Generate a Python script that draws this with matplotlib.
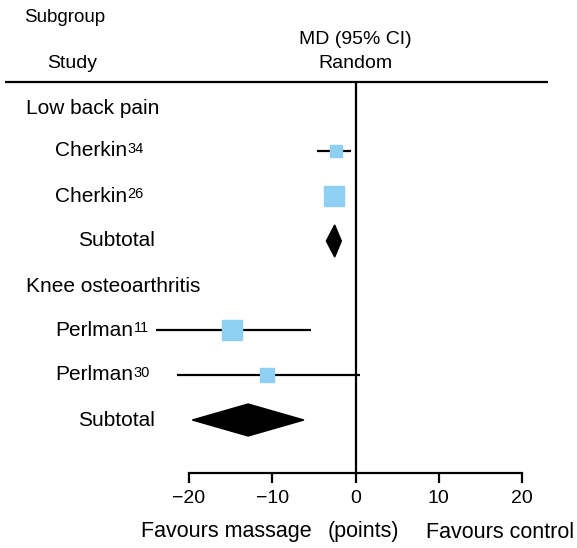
import matplotlib.pyplot as plt
from matplotlib.patches import Polygon

plt.rcParams['font.family'] = ['Liberation Sans', 'DejaVu Sans']

# study-level mean differences with 95% CI
studies = ['Cherkin', 'Cherkin', 'Perlman', 'Perlman']
refs = ['34', '26', '11', '30']
md = [-2.4, -2.6, -14.8, -10.6]
ci_low = [-4.6, -3.6, -24.0, -21.5]
ci_high = [-0.5, -1.6, -5.3, 0.5]

# pooled random-effects estimates per subgroup
subgroups = ['Low back pain', 'Knee osteoarthritis']
pooled_md = [-2.5, -12.9]
pooled_low = [-3.5, -19.6]
pooled_high = [-1.7, -6.2]

ticks = [-20, -10, 0, 10, 20]

W, H = 577, 548
fig = plt.figure(figsize=(W / 100, H / 100), dpi=100)
ax = fig.add_axes([0, 0, 1, 1])

# pixel-like vertical units, MD units horizontally
px_per_unit = 333 / 40
x0 = 355.5
ax.set_xlim(-x0 / px_per_unit, (W - x0) / px_per_unit)
ax.set_ylim(H, 0)

blue = '#8fcff2'
fs_head = 14
fs = 15

study_rows = [151, 196, 330, 375]
sub_rows = [108, 286]
total_rows = [241, 420]
sizes = [8, 15, 14.5, 10]

def px(x):
    return (x - x0) / px_per_unit

renderer = fig.canvas.get_renderer()

# header
ax.text(px(24), 18, 'Subgroup', fontsize=13.5, ha='left', va='center')
ax.text(px(72), 63, 'Study', fontsize=fs_head, ha='center', va='center')
ax.text(0, 40, 'MD (95% CI)', fontsize=fs_head, ha='center', va='center')
ax.text(0, 63, 'Random', fontsize=fs_head, ha='center', va='center')
ax.plot([px(5), px(548)], [82, 82], color='black', lw=1.6, solid_capstyle='butt')

# line of no effect
ax.plot([0, 0], [82, 473], color='black', lw=1.6, solid_capstyle='butt')

for name, y in zip(subgroups, sub_rows):
    ax.text(px(26), y, name, fontsize=fs, ha='left', va='center')

for name, ref, y, m, lo, hi, s in zip(studies, refs, study_rows, md, ci_low, ci_high, sizes):
    t = ax.text(px(55), y, name, fontsize=fs, ha='left', va='center')
    # reference number as a superscript right after the name
    right = t.get_window_extent(renderer).x1
    xs = ax.transData.inverted().transform((right + 0.5, 0))[0]
    ax.text(xs, y - 9, ref, fontsize=10.5, ha='left', va='top')
    ax.plot([lo, hi], [y, y], color='black', lw=1.6, solid_capstyle='butt')
    ax.plot(m, y, marker='s', ms=s, color=blue, mec=blue, zorder=3)

for y, m, lo, hi in zip(total_rows, pooled_md, pooled_low, pooled_high):
    ax.text(px(78), y, 'Subtotal', fontsize=fs, ha='left', va='center')
    ax.add_patch(Polygon([(lo, y), (m, y - 16), (hi, y), (m, y + 16)],
                         closed=True, color='black', zorder=3))

# bottom scale
for side in ['top', 'left', 'right']:
    ax.spines[side].set_visible(False)
ax.spines['bottom'].set_position(('data', 473))
ax.spines['bottom'].set_bounds(-20, 20)
ax.spines['bottom'].set_linewidth(1.6)
ax.set_xticks(ticks)
ax.set_xticklabels([f'{t:d}'.replace('-', '\u2212') for t in ticks])
ax.tick_params(axis='x', direction='out', length=7, width=1.6, labelsize=14, pad=5)
ax.set_yticks([])

ax.text(px(226), 532, 'Favours massage', fontsize=15.5, ha='center', va='center')
ax.text(px(363), 532, '(points)', fontsize=15.5, ha='center', va='center')
ax.text(px(500), 532, 'Favours control', fontsize=15.5, ha='center', va='center')

fig.savefig('out.png', dpi=100)
